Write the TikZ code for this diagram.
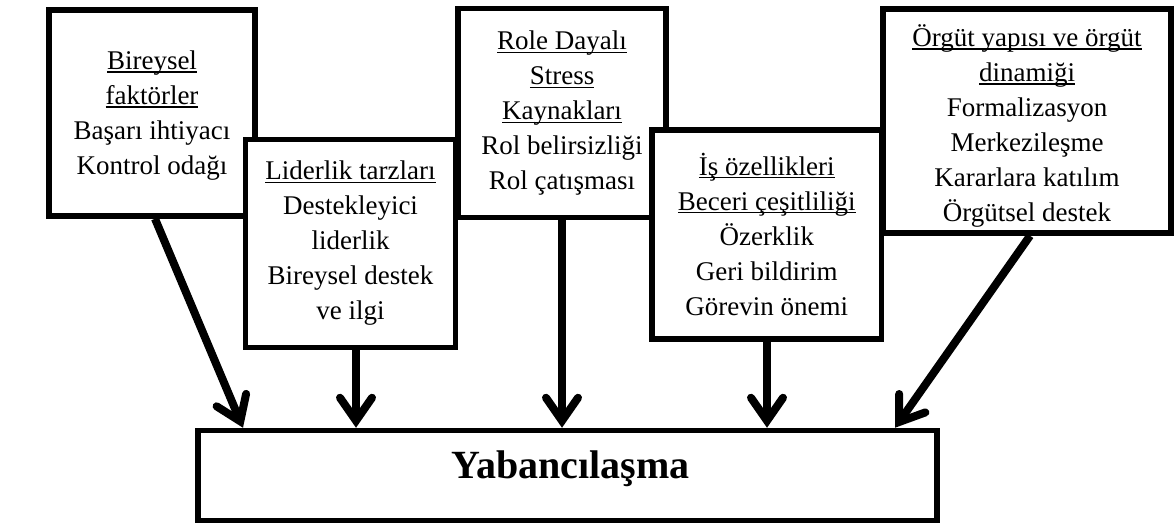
\documentclass[tikz,border=0pt]{standalone}
\usepackage{fontspec}
\setmainfont{Liberation Serif}
\usetikzlibrary{arrows.meta}

% underline at a fixed depth below the baseline
\newcommand\ulx[1]{\setbox0\hbox{#1}\rlap{\rule[-3.2pt]{\wd0}{1.3pt}}\box0}

\begin{document}
\begin{tikzpicture}[x=1pt, y=-1pt,
  box/.style={draw=black, fill=white, line width=5.5pt, inner sep=0pt},
  txt/.style={align=center, inner sep=0pt, font=\fontsize{27}{35}\selectfont},
  arr/.style={line width=8pt, draw=black,
    -{Straight Barb[length=23pt, width=32pt, line cap=round, line join=miter]}}
]
\useasboundingbox (0,0) rectangle (1174,526);

% source boxes, back row
\node[box, minimum width=206pt, minimum height=206pt] (b1) at (152,113) {};
\node[txt] (b1t) at (152,115.5)
  {\ulx{Bireysel}\\ \ulx{faktörler}\\ Başarı ihtiyacı\\ Kontrol odağı};
\node[box, minimum width=208pt, minimum height=209pt] (b3) at (562,113) {};
\node[txt] (b3t) at (562,113.5)
  {\ulx{Role Dayalı}\\ \ulx{Stress}\\ \ulx{Kaynakları}\\ Rol belirsizliği\\ Rol çatışması};
\node[box, minimum width=288pt, minimum height=224pt] (b5) at (1027,121) {};
\node[txt] (b5t) at (1027,126)
  {\ulx{Örgüt yapısı ve örgüt}\\ \ulx{dinamiği}\\ Formalizasyon\\ Merkezileşme\\ Kararlara katılım\\ Örgütsel destek};

% source boxes, front row
\node[box, minimum width=210pt, minimum height=208pt] (b2) at (350.5,243.5) {};
\node[txt] (b2t) at (350.5,243.5)
  {\ulx{Liderlik tarzları}\\ Destekleyici\\ liderlik\\ Bireysel destek\\ ve ilgi};
\node[box, minimum width=229.5pt, minimum height=209pt] (b4) at (766.75,234.5) {};
\node[txt] (b4t) at (766.75,234)
  {\ulx{İş özellikleri}\\ \ulx{Beceri çeşitliliği}\\ Özerklik\\ Geri bildirim\\ Görevin önemi};

% target box
\node[box, minimum width=739pt, minimum height=90pt] (t) at (567.5,475.5) {};
\node[font=\fontsize{40}{44}\selectfont\bfseries, anchor=base] (tl) at (570.5,478) {Yabancılaşma};

% connectors
\draw[arr] (b1.south -| 155,0) -- (t.north -| 243,0);
\draw[arr] (b2.south -| 356,0) -- (t.north -| 356,0);
\draw[arr] (b3.south -| 562,0) -- (t.north -| 562,0);
\draw[arr] (b4.south -| 767,0) -- (t.north -| 767,0);
\draw[arr] (b5.south -| 1030,0) -- (t.north -| 895,0);
\end{tikzpicture}
\end{document}
